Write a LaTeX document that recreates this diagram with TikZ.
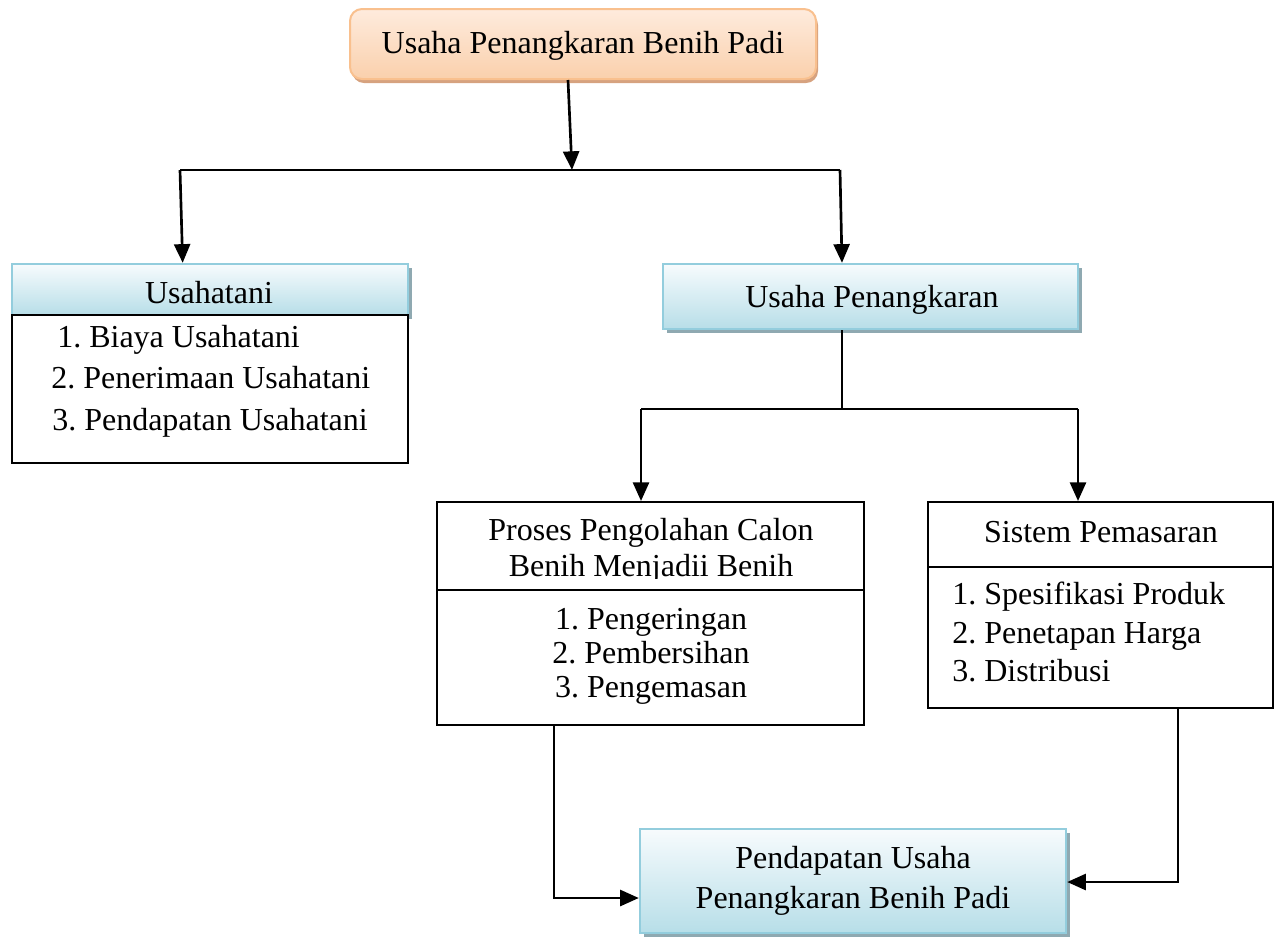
\documentclass[tikz,border=0pt]{standalone}
\usepackage{fontspec}
\setmainfont{Liberation Serif}
\usetikzlibrary{arrows.meta,shadows}
\definecolor{orbd}{HTML}{F9C08E}
\definecolor{ortop}{HTML}{FEEBDD}
\definecolor{orbot}{HTML}{FAD0AC}
\definecolor{orsh}{HTML}{D6A27F}
\definecolor{blbd}{HTML}{93CDDD}
\definecolor{bltop}{HTML}{F7FBFD}
\definecolor{blbot}{HTML}{B7DEE8}
\definecolor{blsh}{HTML}{8FA9B1}
\frenchspacing
\begin{document}
\begin{tikzpicture}[x=0.75pt,y=-0.75pt,
 txt/.style={font=\fontsize{24}{28}\selectfont, inner sep=0pt},
 orbox/.style={draw=orbd, line width=1.5pt, rounded corners=9pt, top color=ortop, bottom color=orbot, inner sep=0pt,
   general shadow={fill=orsh, shadow xshift=1.5pt, shadow yshift=-3pt, rounded corners=9pt}},
 blbox/.style={draw=blbd, line width=1.8pt, top color=bltop, bottom color=blbot, inner sep=0pt,
   general shadow={fill=blsh, shadow xshift=3pt, shadow yshift=-3pt}},
 plbox/.style={draw=black, line width=1.5pt, fill=white, inner sep=0pt},
 arr/.style={line width=2pt, -{Triangle[length=14pt,width=12pt]}},
 ln/.style={line width=2pt},
]
\useasboundingbox (0,0) rectangle (1280,940);

% boxes
\node[orbox, minimum width=349.5pt, minimum height=52.5pt] (top) at (583,44) {};
\node[blbox, minimum width=297pt, minimum height=38.25pt] (uh) at (210,289.5) {};
\node[plbox, minimum width=297pt, minimum height=111pt] (ub) at (210,389) {};
\node[blbox, minimum width=311.25pt, minimum height=48.75pt] (up) at (870.5,296.5) {};
\node[plbox, minimum width=320.25pt, minimum height=66pt] (ph) at (650.5,546) {};
\node[plbox, minimum width=320.25pt, minimum height=101.25pt] (pb) at (650.5,657.5) {};
\node[plbox, minimum width=258.75pt, minimum height=48.75pt] (sh) at (1100.5,534.5) {};
\node[plbox, minimum width=258.75pt, minimum height=105.75pt] (sb) at (1100.5,637.5) {};
\node[blbox, minimum width=319.5pt, minimum height=78pt] (pd) at (853,881) {};

% texts
\node[txt, anchor=base] (toptxt) at (583,53) {Usaha Penangkaran Benih Padi};
\node[txt, anchor=base] (uhtxt) at (209,303) {Usahatani};
\node[txt, anchor=base west] (ub1) at (57,347) {1. Biaya Usahatani};
\node[txt, anchor=base west] (ub2) at (51,388) {2. Penerimaan Usahatani};
\node[txt, anchor=base west] (ub3) at (52,430) {3. Pendapatan Usahatani};
\node[txt, anchor=base] (uptxt) at (872,307) {Usaha Penangkaran};
\node[txt, anchor=base] (ph1) at (651,540) {Proses Pengolahan Calon};
\begin{scope}
\clip (437,502) rectangle (864,578.5);
\node[txt, anchor=base] (ph2) at (651,576) {Benih Menjadii Benih};
\end{scope}
\node[txt, anchor=base] (pb1) at (651,629) {1. Pengeringan};
\node[txt, anchor=base] (pb2) at (651,663) {2. Pembersihan};
\node[txt, anchor=base] (pb3) at (651,697) {3. Pengemasan};
\node[txt, anchor=base] (shtxt) at (1101,542) {Sistem Pemasaran};
\node[txt, anchor=base west] (sb1) at (952,604) {1. Spesifikasi Produk};
\node[txt, anchor=base west] (sb2) at (952,643) {2. Penetapan Harga};
\node[txt, anchor=base west] (sb3) at (952,681) {3. Distribusi};
\node[txt, anchor=base] (pd1) at (853,868) {Pendapatan Usaha};
\node[txt, anchor=base] (pd2) at (853,908) {Penangkaran Benih Padi};

% junction coordinates
\coordinate (j1) at (572,170);
\coordinate (jl) at (180,170);
\coordinate (jr) at (840,170);
\coordinate (j2) at (842,409);
\coordinate (j2l) at (641,409);
\coordinate (j2r) at (1078,409);
\coordinate (c1) at (554,898);
\coordinate (c2) at (1178,882);

% connectors
\draw[arr] ([xshift=-11.25pt]top.south) -- (j1);
\draw[ln] (jl) -- (jr);
\draw[arr] (jl) -- ([xshift=2pt]jl |- uh.north);
\draw[arr] (jr) -- ([xshift=1.5pt]jr |- up.north);
\draw[ln] (j2 |- up.south) -- (j2);
\draw[ln] (j2l) -- (j2r);
\draw[arr] (j2l) -- (j2l |- ph.north);
\draw[arr] (j2r) -- (j2r |- sh.north);
\draw[arr] (c1 |- pb.south) -- (c1) -- (c1 -| pd.west);
\draw[arr] (c2 |- sb.south) -- (c2) -- (c2 -| pd.east);
\end{tikzpicture}
\end{document}
